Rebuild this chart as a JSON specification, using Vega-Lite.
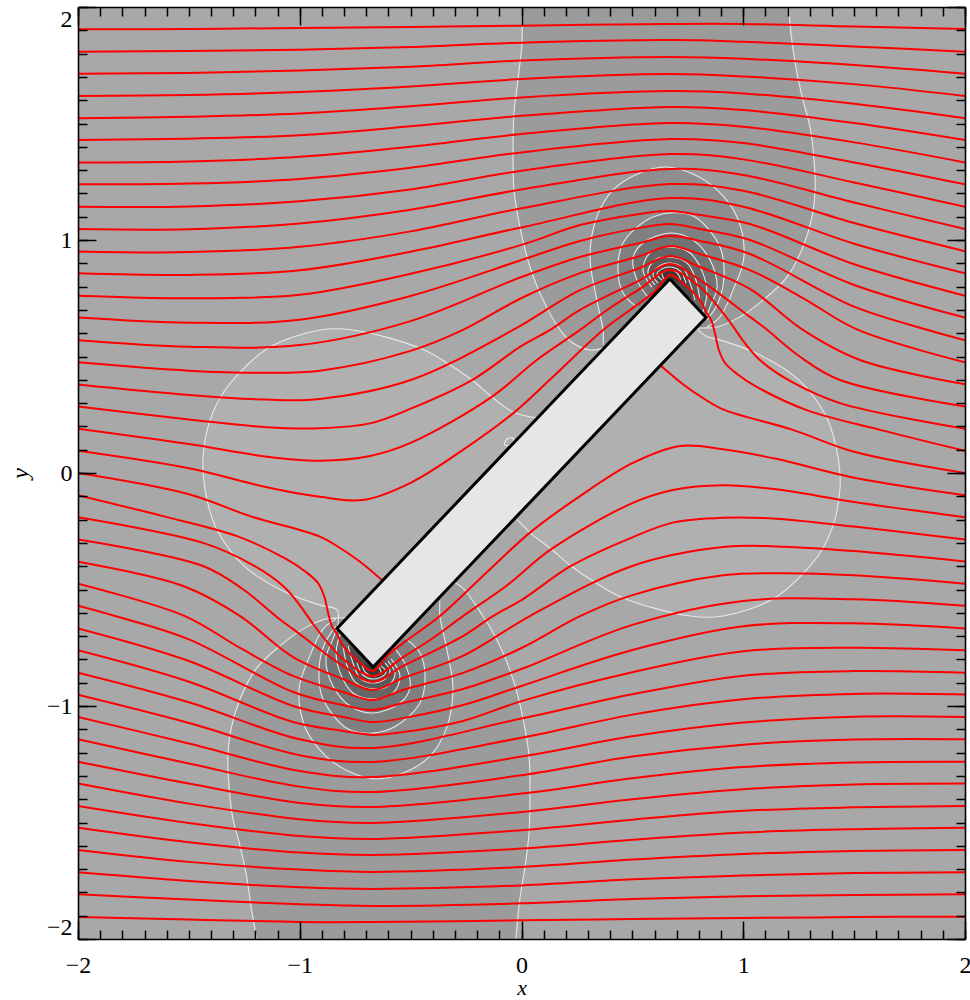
{"$schema":"https://vega.github.io/schema/vega-lite/v6.json","width":887,"height":932,"autosize":"none","padding":{"left":78,"top":7,"right":5,"bottom":61},"background":"white","view":{"fill":"#a8a8a8","stroke":null},
"datasets":{"contours":[
{"c":"A","level":1,"i":0,"x":0.002,"y":2},{"c":"A","level":1,"i":1,"x":0.002,"y":1.845},{"c":"A","level":1,"i":2,"x":-0.016,"y":1.687},{"c":"A","level":1,"i":3,"x":-0.034,"y":1.545},{"c":"A","level":1,"i":4,"x":-0.038,"y":1.386},{"c":"A","level":1,"i":5,"x":-0.034,"y":1.215},{"c":"A","level":1,"i":6,"x":-0.007,"y":1.056},{"c":"A","level":1,"i":7,"x":0.029,"y":0.914},{"c":"A","level":1,"i":8,"x":0.083,"y":0.773},{"c":"A","level":1,"i":9,"x":0.174,"y":0.614},{"c":"A","level":1,"i":10,"x":0.232,"y":0.558},{"c":"A","level":1,"i":11,"x":0.309,"y":0.528},{"c":"A","level":1,"i":12,"x":0.368,"y":0.536},{"c":"A","level":1,"i":13,"x":0.534,"y":0.614},{"c":"A","level":1,"i":14,"x":0.818,"y":0.622},{"c":"A","level":1,"i":15,"x":0.882,"y":0.627},{"c":"A","level":1,"i":16,"x":0.985,"y":0.67},{"c":"A","level":1,"i":17,"x":1.089,"y":0.742},{"c":"A","level":1,"i":18,"x":1.197,"y":0.841},{"c":"A","level":1,"i":19,"x":1.269,"y":0.97},{"c":"A","level":1,"i":20,"x":1.31,"y":1.099},{"c":"A","level":1,"i":21,"x":1.324,"y":1.215},{"c":"A","level":1,"i":22,"x":1.319,"y":1.343},{"c":"A","level":1,"i":23,"x":1.301,"y":1.485},{"c":"A","level":1,"i":24,"x":1.269,"y":1.601},{"c":"A","level":1,"i":25,"x":1.242,"y":1.717},{"c":"A","level":1,"i":26,"x":1.215,"y":1.888},{"c":"A","level":1,"i":27,"x":1.206,"y":2},
{"c":"Am","level":1,"i":0,"x":-0.025,"y":-2},{"c":"Am","level":1,"i":1,"x":-0.01,"y":-1.845},{"c":"Am","level":1,"i":2,"x":0.016,"y":-1.687},{"c":"Am","level":1,"i":3,"x":0.034,"y":-1.545},{"c":"Am","level":1,"i":4,"x":0.038,"y":-1.386},{"c":"Am","level":1,"i":5,"x":0.034,"y":-1.215},{"c":"Am","level":1,"i":6,"x":0.007,"y":-1.056},{"c":"Am","level":1,"i":7,"x":-0.029,"y":-0.914},{"c":"Am","level":1,"i":8,"x":-0.083,"y":-0.773},{"c":"Am","level":1,"i":9,"x":-0.174,"y":-0.614},{"c":"Am","level":1,"i":10,"x":-0.3,"y":-0.472},{"c":"Am","level":1,"i":11,"x":-0.4,"y":-0.5},{"c":"Am","level":1,"i":12,"x":-0.534,"y":-0.614},{"c":"Am","level":1,"i":13,"x":-0.818,"y":-0.622},{"c":"Am","level":1,"i":14,"x":-0.882,"y":-0.627},{"c":"Am","level":1,"i":15,"x":-0.985,"y":-0.67},{"c":"Am","level":1,"i":16,"x":-1.089,"y":-0.742},{"c":"Am","level":1,"i":17,"x":-1.197,"y":-0.841},{"c":"Am","level":1,"i":18,"x":-1.269,"y":-0.97},{"c":"Am","level":1,"i":19,"x":-1.31,"y":-1.099},{"c":"Am","level":1,"i":20,"x":-1.324,"y":-1.215},{"c":"Am","level":1,"i":21,"x":-1.319,"y":-1.343},{"c":"Am","level":1,"i":22,"x":-1.301,"y":-1.485},{"c":"Am","level":1,"i":23,"x":-1.269,"y":-1.601},{"c":"Am","level":1,"i":24,"x":-1.242,"y":-1.717},{"c":"Am","level":1,"i":25,"x":-1.215,"y":-1.888},{"c":"Am","level":1,"i":26,"x":-1.193,"y":-2},
{"c":"B","level":0,"i":0,"x":0.07,"y":0.236},{"c":"B","level":0,"i":1,"x":-0.038,"y":0.262},{"c":"B","level":0,"i":2,"x":-0.133,"y":0.326},{"c":"B","level":0,"i":3,"x":-0.223,"y":0.399},{"c":"B","level":0,"i":4,"x":-0.336,"y":0.472},{"c":"B","level":0,"i":5,"x":-0.458,"y":0.536},{"c":"B","level":0,"i":6,"x":-0.76,"y":0.614},{"c":"B","level":0,"i":7,"x":-0.909,"y":0.614},{"c":"B","level":0,"i":8,"x":-1.134,"y":0.541},{"c":"B","level":0,"i":9,"x":-1.269,"y":0.433},{"c":"B","level":0,"i":10,"x":-1.36,"y":0.322},{"c":"B","level":0,"i":11,"x":-1.414,"y":0.197},{"c":"B","level":0,"i":12,"x":-1.436,"y":0.069},{"c":"B","level":0,"i":13,"x":-1.436,"y":0},{"c":"B","level":0,"i":14,"x":-1.418,"y":-0.116},{"c":"B","level":0,"i":15,"x":-1.373,"y":-0.245},{"c":"B","level":0,"i":16,"x":-1.247,"y":-0.403},{"c":"B","level":0,"i":17,"x":-1.057,"y":-0.515},{"c":"B","level":0,"i":18,"x":-0.909,"y":-0.567},{"c":"B","level":0,"i":19,"x":-0.832,"y":-0.588},{"c":"B","level":0,"i":20,"x":-0.832,"y":-0.674},
{"c":"Bm","level":0,"i":0,"x":-0.02,"y":-0.2},{"c":"Bm","level":0,"i":1,"x":0.0,"y":-0.22},{"c":"Bm","level":0,"i":2,"x":0.045,"y":-0.262},{"c":"Bm","level":0,"i":3,"x":0.133,"y":-0.326},{"c":"Bm","level":0,"i":4,"x":0.223,"y":-0.399},{"c":"Bm","level":0,"i":5,"x":0.336,"y":-0.472},{"c":"Bm","level":0,"i":6,"x":0.458,"y":-0.536},{"c":"Bm","level":0,"i":7,"x":0.76,"y":-0.614},{"c":"Bm","level":0,"i":8,"x":0.909,"y":-0.614},{"c":"Bm","level":0,"i":9,"x":1.134,"y":-0.541},{"c":"Bm","level":0,"i":10,"x":1.269,"y":-0.433},{"c":"Bm","level":0,"i":11,"x":1.36,"y":-0.322},{"c":"Bm","level":0,"i":12,"x":1.414,"y":-0.197},{"c":"Bm","level":0,"i":13,"x":1.436,"y":-0.069},{"c":"Bm","level":0,"i":14,"x":1.436,"y":0},{"c":"Bm","level":0,"i":15,"x":1.418,"y":0.116},{"c":"Bm","level":0,"i":16,"x":1.373,"y":0.245},{"c":"Bm","level":0,"i":17,"x":1.247,"y":0.403},{"c":"Bm","level":0,"i":18,"x":1.057,"y":0.515},{"c":"Bm","level":0,"i":19,"x":0.909,"y":0.567},{"c":"Bm","level":0,"i":20,"x":0.832,"y":0.588},{"c":"Bm","level":0,"i":21,"x":0.79,"y":0.62},
{"c":"D","level":0,"i":0,"x":-0.079,"y":0.12},{"c":"D","level":0,"i":1,"x":-0.065,"y":0.146},{"c":"D","level":0,"i":2,"x":-0.038,"y":0.15},{"c":"D","level":0,"i":3,"x":-0.043,"y":0.12},{"c":"D","level":0,"i":4,"x":-0.079,"y":0.12},
{"c":"C1","level":2,"i":0,"x":0.368,"y":0.549},{"c":"C1","level":2,"i":1,"x":0.368,"y":0.614},{"c":"C1","level":2,"i":2,"x":0.34,"y":0.742},{"c":"C1","level":2,"i":3,"x":0.309,"y":0.927},{"c":"C1","level":2,"i":4,"x":0.34,"y":1.099},{"c":"C1","level":2,"i":5,"x":0.413,"y":1.215},{"c":"C1","level":2,"i":6,"x":0.534,"y":1.288},{"c":"C1","level":2,"i":7,"x":0.661,"y":1.313},{"c":"C1","level":2,"i":8,"x":0.782,"y":1.279},{"c":"C1","level":2,"i":9,"x":0.882,"y":1.215},{"c":"C1","level":2,"i":10,"x":0.972,"y":1.099},{"c":"C1","level":2,"i":11,"x":1.003,"y":0.927},{"c":"C1","level":2,"i":12,"x":0.954,"y":0.785},{"c":"C1","level":2,"i":13,"x":0.895,"y":0.67},{"c":"C1","level":2,"i":14,"x":0.836,"y":0.627},
{"c":"C1m","level":2,"i":0,"x":-0.368,"y":-0.549},{"c":"C1m","level":2,"i":1,"x":-0.368,"y":-0.614},{"c":"C1m","level":2,"i":2,"x":-0.34,"y":-0.742},{"c":"C1m","level":2,"i":3,"x":-0.309,"y":-0.927},{"c":"C1m","level":2,"i":4,"x":-0.34,"y":-1.099},{"c":"C1m","level":2,"i":5,"x":-0.413,"y":-1.215},{"c":"C1m","level":2,"i":6,"x":-0.534,"y":-1.288},{"c":"C1m","level":2,"i":7,"x":-0.661,"y":-1.313},{"c":"C1m","level":2,"i":8,"x":-0.782,"y":-1.279},{"c":"C1m","level":2,"i":9,"x":-0.882,"y":-1.215},{"c":"C1m","level":2,"i":10,"x":-0.972,"y":-1.099},{"c":"C1m","level":2,"i":11,"x":-1.003,"y":-0.927},{"c":"C1m","level":2,"i":12,"x":-0.954,"y":-0.785},{"c":"C1m","level":2,"i":13,"x":-0.895,"y":-0.67},{"c":"C1m","level":2,"i":14,"x":-0.836,"y":-0.627},
{"c":"C2","level":3,"i":0,"x":0.521,"y":0.712},{"c":"C2","level":3,"i":1,"x":0.458,"y":0.773},{"c":"C2","level":3,"i":2,"x":0.435,"y":0.871},{"c":"C2","level":3,"i":3,"x":0.458,"y":0.987},{"c":"C2","level":3,"i":4,"x":0.566,"y":1.086},{"c":"C2","level":3,"i":5,"x":0.67,"y":1.116},{"c":"C2","level":3,"i":6,"x":0.782,"y":1.099},{"c":"C2","level":3,"i":7,"x":0.895,"y":0.97},{"c":"C2","level":3,"i":8,"x":0.913,"y":0.841},{"c":"C2","level":3,"i":9,"x":0.886,"y":0.73},{"c":"C2","level":3,"i":10,"x":0.836,"y":0.657},
{"c":"C2m","level":3,"i":0,"x":-0.521,"y":-0.712},{"c":"C2m","level":3,"i":1,"x":-0.458,"y":-0.773},{"c":"C2m","level":3,"i":2,"x":-0.435,"y":-0.871},{"c":"C2m","level":3,"i":3,"x":-0.458,"y":-0.987},{"c":"C2m","level":3,"i":4,"x":-0.566,"y":-1.086},{"c":"C2m","level":3,"i":5,"x":-0.67,"y":-1.116},{"c":"C2m","level":3,"i":6,"x":-0.782,"y":-1.099},{"c":"C2m","level":3,"i":7,"x":-0.895,"y":-0.97},{"c":"C2m","level":3,"i":8,"x":-0.913,"y":-0.841},{"c":"C2m","level":3,"i":9,"x":-0.886,"y":-0.73},{"c":"C2m","level":3,"i":10,"x":-0.836,"y":-0.657},
{"c":"C3","level":4,"i":0,"x":0.57,"y":0.755},{"c":"C3","level":4,"i":1,"x":0.521,"y":0.828},{"c":"C3","level":4,"i":2,"x":0.503,"y":0.923},{"c":"C3","level":4,"i":3,"x":0.548,"y":0.987},{"c":"C3","level":4,"i":4,"x":0.67,"y":1.03},{"c":"C3","level":4,"i":5,"x":0.773,"y":1.0},{"c":"C3","level":4,"i":6,"x":0.85,"y":0.914},{"c":"C3","level":4,"i":7,"x":0.882,"y":0.798},{"c":"C3","level":4,"i":8,"x":0.85,"y":0.712},{"c":"C3","level":4,"i":9,"x":0.832,"y":0.665},
{"c":"C3m","level":4,"i":0,"x":-0.57,"y":-0.755},{"c":"C3m","level":4,"i":1,"x":-0.521,"y":-0.828},{"c":"C3m","level":4,"i":2,"x":-0.503,"y":-0.923},{"c":"C3m","level":4,"i":3,"x":-0.548,"y":-0.987},{"c":"C3m","level":4,"i":4,"x":-0.67,"y":-1.03},{"c":"C3m","level":4,"i":5,"x":-0.773,"y":-1.0},{"c":"C3m","level":4,"i":6,"x":-0.85,"y":-0.914},{"c":"C3m","level":4,"i":7,"x":-0.882,"y":-0.798},{"c":"C3m","level":4,"i":8,"x":-0.85,"y":-0.712},{"c":"C3m","level":4,"i":9,"x":-0.832,"y":-0.665},
{"c":"C4","level":5,"i":0,"x":0.588,"y":0.798},{"c":"C4","level":5,"i":1,"x":0.548,"y":0.871},{"c":"C4","level":5,"i":2,"x":0.579,"y":0.944},{"c":"C4","level":5,"i":3,"x":0.67,"y":0.97},{"c":"C4","level":5,"i":4,"x":0.76,"y":0.944},{"c":"C4","level":5,"i":5,"x":0.818,"y":0.858},{"c":"C4","level":5,"i":6,"x":0.836,"y":0.773},{"c":"C4","level":5,"i":7,"x":0.818,"y":0.691},
{"c":"C4m","level":5,"i":0,"x":-0.588,"y":-0.798},{"c":"C4m","level":5,"i":1,"x":-0.548,"y":-0.871},{"c":"C4m","level":5,"i":2,"x":-0.579,"y":-0.944},{"c":"C4m","level":5,"i":3,"x":-0.67,"y":-0.97},{"c":"C4m","level":5,"i":4,"x":-0.76,"y":-0.944},{"c":"C4m","level":5,"i":5,"x":-0.818,"y":-0.858},{"c":"C4m","level":5,"i":6,"x":-0.836,"y":-0.773},{"c":"C4m","level":5,"i":7,"x":-0.818,"y":-0.691},
{"c":"C5","level":6,"i":0,"x":0.602,"y":0.807},{"c":"C5","level":6,"i":1,"x":0.57,"y":0.863},{"c":"C5","level":6,"i":2,"x":0.602,"y":0.914},{"c":"C5","level":6,"i":3,"x":0.67,"y":0.927},{"c":"C5","level":6,"i":4,"x":0.746,"y":0.901},{"c":"C5","level":6,"i":5,"x":0.782,"y":0.841},{"c":"C5","level":6,"i":6,"x":0.805,"y":0.742},
{"c":"C5m","level":6,"i":0,"x":-0.602,"y":-0.807},{"c":"C5m","level":6,"i":1,"x":-0.57,"y":-0.863},{"c":"C5m","level":6,"i":2,"x":-0.602,"y":-0.914},{"c":"C5m","level":6,"i":3,"x":-0.67,"y":-0.927},{"c":"C5m","level":6,"i":4,"x":-0.746,"y":-0.901},{"c":"C5m","level":6,"i":5,"x":-0.782,"y":-0.841},{"c":"C5m","level":6,"i":6,"x":-0.805,"y":-0.742},
{"c":"C6","level":7,"i":0,"x":0.616,"y":0.815},{"c":"C6","level":7,"i":1,"x":0.593,"y":0.85},{"c":"C6","level":7,"i":2,"x":0.616,"y":0.884},{"c":"C6","level":7,"i":3,"x":0.67,"y":0.901},{"c":"C6","level":7,"i":4,"x":0.728,"y":0.88},{"c":"C6","level":7,"i":5,"x":0.76,"y":0.815},{"c":"C6","level":7,"i":6,"x":0.782,"y":0.742},
{"c":"C6m","level":7,"i":0,"x":-0.616,"y":-0.815},{"c":"C6m","level":7,"i":1,"x":-0.593,"y":-0.85},{"c":"C6m","level":7,"i":2,"x":-0.616,"y":-0.884},{"c":"C6m","level":7,"i":3,"x":-0.67,"y":-0.901},{"c":"C6m","level":7,"i":4,"x":-0.728,"y":-0.88},{"c":"C6m","level":7,"i":5,"x":-0.76,"y":-0.815},{"c":"C6m","level":7,"i":6,"x":-0.782,"y":-0.742},
{"c":"C7","level":8,"i":0,"x":0.634,"y":0.828},{"c":"C7","level":8,"i":1,"x":0.611,"y":0.854},{"c":"C7","level":8,"i":2,"x":0.634,"y":0.876},{"c":"C7","level":8,"i":3,"x":0.67,"y":0.884},{"c":"C7","level":8,"i":4,"x":0.715,"y":0.867},{"c":"C7","level":8,"i":5,"x":0.742,"y":0.815},
{"c":"C7m","level":8,"i":0,"x":-0.634,"y":-0.828},{"c":"C7m","level":8,"i":1,"x":-0.611,"y":-0.854},{"c":"C7m","level":8,"i":2,"x":-0.634,"y":-0.876},{"c":"C7m","level":8,"i":3,"x":-0.67,"y":-0.884},{"c":"C7m","level":8,"i":4,"x":-0.715,"y":-0.867},{"c":"C7m","level":8,"i":5,"x":-0.742,"y":-0.815},
{"c":"C8","level":9,"i":0,"x":0.643,"y":0.833},{"c":"C8","level":9,"i":1,"x":0.634,"y":0.858},{"c":"C8","level":9,"i":2,"x":0.67,"y":0.871},{"c":"C8","level":9,"i":3,"x":0.706,"y":0.854},{"c":"C8","level":9,"i":4,"x":0.719,"y":0.824},
{"c":"C8m","level":9,"i":0,"x":-0.643,"y":-0.833},{"c":"C8m","level":9,"i":1,"x":-0.634,"y":-0.858},{"c":"C8m","level":9,"i":2,"x":-0.67,"y":-0.871},{"c":"C8m","level":9,"i":3,"x":-0.706,"y":-0.854},{"c":"C8m","level":9,"i":4,"x":-0.719,"y":-0.824}
],
"lines":[
{"k":20,"i":0,"x":-2,"y":1.904},{"k":20,"i":1,"x":-1.5,"y":1.906},{"k":20,"i":2,"x":-1,"y":1.91},{"k":20,"i":3,"x":-0.5,"y":1.914},{"k":20,"i":4,"x":0,"y":1.92},{"k":20,"i":5,"x":0.67,"y":1.927},{"k":20,"i":6,"x":1,"y":1.927},{"k":20,"i":7,"x":1.5,"y":1.916},{"k":20,"i":8,"x":2,"y":1.906},
{"k":19,"i":0,"x":-2,"y":1.808},{"k":19,"i":1,"x":-1.5,"y":1.811},{"k":19,"i":2,"x":-1,"y":1.817},{"k":19,"i":3,"x":-0.5,"y":1.828},{"k":19,"i":4,"x":0,"y":1.847},{"k":19,"i":5,"x":0.67,"y":1.858},{"k":19,"i":6,"x":1,"y":1.851},{"k":19,"i":7,"x":1.5,"y":1.831},{"k":19,"i":8,"x":2,"y":1.808},
{"k":18,"i":0,"x":-2,"y":1.714},{"k":18,"i":1,"x":-1.5,"y":1.717},{"k":18,"i":2,"x":-1,"y":1.727},{"k":18,"i":3,"x":-0.5,"y":1.744},{"k":18,"i":4,"x":0,"y":1.77},{"k":18,"i":5,"x":0.67,"y":1.785},{"k":18,"i":6,"x":1,"y":1.778},{"k":18,"i":7,"x":1.5,"y":1.751},{"k":18,"i":8,"x":2,"y":1.714},
{"k":17,"i":0,"x":-2,"y":1.618},{"k":17,"i":1,"x":-1.5,"y":1.622},{"k":17,"i":2,"x":-1,"y":1.635},{"k":17,"i":3,"x":-0.5,"y":1.659},{"k":17,"i":4,"x":0,"y":1.691},{"k":17,"i":5,"x":0.67,"y":1.712},{"k":17,"i":6,"x":1,"y":1.702},{"k":17,"i":7,"x":1.5,"y":1.669},{"k":17,"i":8,"x":2,"y":1.618},
{"k":16,"i":0,"x":-2,"y":1.523},{"k":16,"i":1,"x":-1.5,"y":1.529},{"k":16,"i":2,"x":-1,"y":1.543},{"k":16,"i":3,"x":-0.5,"y":1.574},{"k":16,"i":4,"x":0,"y":1.612},{"k":16,"i":5,"x":0.67,"y":1.639},{"k":16,"i":6,"x":1,"y":1.629},{"k":16,"i":7,"x":1.5,"y":1.585},{"k":16,"i":8,"x":2,"y":1.523},
{"k":15,"i":0,"x":-2,"y":1.429},{"k":15,"i":1,"x":-1.5,"y":1.435},{"k":15,"i":2,"x":-1,"y":1.45},{"k":15,"i":3,"x":-0.5,"y":1.488},{"k":15,"i":4,"x":0,"y":1.533},{"k":15,"i":5,"x":0.67,"y":1.571},{"k":15,"i":6,"x":1,"y":1.558},{"k":15,"i":7,"x":1.5,"y":1.502},{"k":15,"i":8,"x":2,"y":1.429},
{"k":14,"i":0,"x":-2,"y":1.333},{"k":14,"i":1,"x":-1.5,"y":1.337},{"k":14,"i":2,"x":-1,"y":1.357},{"k":14,"i":3,"x":-0.5,"y":1.4},{"k":14,"i":4,"x":0,"y":1.455},{"k":14,"i":5,"x":0.67,"y":1.502},{"k":14,"i":6,"x":1,"y":1.486},{"k":14,"i":7,"x":1.5,"y":1.419},{"k":14,"i":8,"x":2,"y":1.333},
{"k":13,"i":0,"x":-2,"y":1.239},{"k":13,"i":1,"x":-1.5,"y":1.242},{"k":13,"i":2,"x":-1,"y":1.262},{"k":13,"i":3,"x":-0.5,"y":1.31},{"k":13,"i":4,"x":0,"y":1.376},{"k":13,"i":5,"x":0.67,"y":1.433},{"k":13,"i":6,"x":1,"y":1.416},{"k":13,"i":7,"x":1.5,"y":1.333},{"k":13,"i":8,"x":2,"y":1.239},
{"k":12,"i":0,"x":-2,"y":1.143},{"k":12,"i":1,"x":-1.5,"y":1.144},{"k":12,"i":2,"x":-1,"y":1.166},{"k":12,"i":3,"x":-0.5,"y":1.217},{"k":12,"i":4,"x":0,"y":1.297},{"k":12,"i":5,"x":0.67,"y":1.369},{"k":12,"i":6,"x":1,"y":1.346},{"k":12,"i":7,"x":1.5,"y":1.247},{"k":12,"i":8,"x":2,"y":1.143},
{"k":11,"i":0,"x":-2,"y":1.047},{"k":11,"i":1,"x":-1.5,"y":1.046},{"k":11,"i":2,"x":-1,"y":1.071},{"k":11,"i":3,"x":-0.5,"y":1.13},{"k":11,"i":4,"x":0,"y":1.217},{"k":11,"i":5,"x":0.67,"y":1.305},{"k":11,"i":6,"x":1,"y":1.279},{"k":11,"i":7,"x":1.5,"y":1.161},{"k":11,"i":8,"x":2,"y":1.047},
{"k":10,"i":0,"x":-2,"y":0.951},{"k":10,"i":1,"x":-1.5,"y":0.948},{"k":10,"i":2,"x":-1,"y":0.971},{"k":10,"i":3,"x":-0.5,"y":1.037},{"k":10,"i":4,"x":0,"y":1.136},{"k":10,"i":5,"x":0.67,"y":1.24},{"k":10,"i":6,"x":1,"y":1.211},{"k":10,"i":7,"x":1.5,"y":1.073},{"k":10,"i":8,"x":2,"y":0.952},
{"k":9,"i":0,"x":-2,"y":0.857},{"k":9,"i":1,"x":-1.5,"y":0.85},{"k":9,"i":2,"x":-1,"y":0.87},{"k":9,"i":3,"x":-0.5,"y":0.95},{"k":9,"i":4,"x":0,"y":1.054},{"k":9,"i":5,"x":0.67,"y":1.18},{"k":9,"i":6,"x":1,"y":1.143},{"k":9,"i":7,"x":1.5,"y":0.984},{"k":9,"i":8,"x":2,"y":0.857},
{"k":8,"i":0,"x":-2,"y":0.761},{"k":8,"i":1,"x":-1.5,"y":0.75},{"k":8,"i":2,"x":-1,"y":0.765},{"k":8,"i":3,"x":-0.5,"y":0.855},{"k":8,"i":4,"x":0,"y":0.979},{"k":8,"i":5,"x":0.264,"y":1.064},{"k":8,"i":6,"x":0.534,"y":1.112},{"k":8,"i":7,"x":0.67,"y":1.124},{"k":8,"i":8,"x":0.805,"y":1.107},{"k":8,"i":9,"x":1.03,"y":1.069},{"k":8,"i":10,"x":1.5,"y":0.896},{"k":8,"i":11,"x":2,"y":0.761},
{"k":7,"i":0,"x":-2,"y":0.667},{"k":7,"i":1,"x":-1.5,"y":0.645},{"k":7,"i":2,"x":-1,"y":0.658},{"k":7,"i":3,"x":-0.5,"y":0.76},{"k":7,"i":4,"x":0,"y":0.914},{"k":7,"i":5,"x":0.264,"y":0.996},{"k":7,"i":6,"x":0.534,"y":1.052},{"k":7,"i":7,"x":0.67,"y":1.069},{"k":7,"i":8,"x":0.805,"y":1.047},{"k":7,"i":9,"x":1.03,"y":1.0},{"k":7,"i":10,"x":1.5,"y":0.807},{"k":7,"i":11,"x":2,"y":0.667},
{"k":6,"i":0,"x":-2,"y":0.57},{"k":6,"i":1,"x":-1.5,"y":0.542},{"k":6,"i":2,"x":-1,"y":0.549},{"k":6,"i":3,"x":-0.5,"y":0.652},{"k":6,"i":4,"x":0,"y":0.841},{"k":6,"i":5,"x":0.264,"y":0.927},{"k":6,"i":6,"x":0.534,"y":0.987},{"k":6,"i":7,"x":0.67,"y":1.017},{"k":6,"i":8,"x":0.805,"y":0.996},{"k":6,"i":9,"x":1.03,"y":0.94},{"k":6,"i":10,"x":1.5,"y":0.714},{"k":6,"i":11,"x":1.833,"y":0.614},{"k":6,"i":12,"x":2,"y":0.57},
{"k":5,"i":0,"x":-2,"y":0.475},{"k":5,"i":1,"x":-1.5,"y":0.439},{"k":5,"i":2,"x":-1.179,"y":0.43},{"k":5,"i":3,"x":-0.909,"y":0.439},{"k":5,"i":4,"x":-0.5,"y":0.524},{"k":5,"i":5,"x":-0.264,"y":0.614},{"k":5,"i":6,"x":0,"y":0.751},{"k":5,"i":7,"x":0.264,"y":0.858},{"k":5,"i":8,"x":0.534,"y":0.931},{"k":5,"i":9,"x":0.67,"y":0.974},{"k":5,"i":10,"x":0.805,"y":0.94},{"k":5,"i":11,"x":1.03,"y":0.871},{"k":5,"i":12,"x":1.269,"y":0.751},{"k":5,"i":13,"x":1.518,"y":0.614},{"k":5,"i":14,"x":2,"y":0.475},
{"k":4,"i":0,"x":-2,"y":0.38},{"k":4,"i":1,"x":-1.5,"y":0.335},{"k":4,"i":2,"x":-1.148,"y":0.315},{"k":4,"i":3,"x":-0.909,"y":0.318},{"k":4,"i":4,"x":-0.5,"y":0.399},{"k":4,"i":5,"x":-0.038,"y":0.614},{"k":4,"i":6,"x":0.264,"y":0.785},{"k":4,"i":7,"x":0.534,"y":0.88},{"k":4,"i":8,"x":0.67,"y":0.931},{"k":4,"i":9,"x":0.805,"y":0.884},{"k":4,"i":10,"x":1.03,"y":0.79},{"k":4,"i":11,"x":1.269,"y":0.614},{"k":4,"i":12,"x":1.526,"y":0.485},{"k":4,"i":13,"x":2,"y":0.381},
{"k":3,"i":0,"x":-2,"y":0.285},{"k":3,"i":1,"x":-1.5,"y":0.23},{"k":3,"i":2,"x":-1.148,"y":0.196},{"k":3,"i":3,"x":-0.909,"y":0.192},{"k":3,"i":4,"x":-0.683,"y":0.213},{"k":3,"i":5,"x":-0.5,"y":0.276},{"k":3,"i":6,"x":-0.223,"y":0.399},{"k":3,"i":7,"x":-0.007,"y":0.541},{"k":3,"i":8,"x":0.129,"y":0.614},{"k":3,"i":9,"x":0.264,"y":0.7},{"k":3,"i":10,"x":0.534,"y":0.828},{"k":3,"i":11,"x":0.67,"y":0.897},{"k":3,"i":12,"x":0.805,"y":0.828},{"k":3,"i":13,"x":1.03,"y":0.67},{"k":3,"i":14,"x":1.098,"y":0.622},{"k":3,"i":15,"x":1.256,"y":0.499},{"k":3,"i":16,"x":1.436,"y":0.399},{"k":3,"i":17,"x":2,"y":0.285},
{"k":2,"i":0,"x":-2,"y":0.19},{"k":2,"i":1,"x":-1.5,"y":0.124},{"k":2,"i":2,"x":-1.148,"y":0.07},{"k":2,"i":3,"x":-0.909,"y":0.053},{"k":2,"i":4,"x":-0.683,"y":0.073},{"k":2,"i":5,"x":-0.5,"y":0.129},{"k":2,"i":6,"x":-0.134,"y":0.327},{"k":2,"i":7,"x":0.069,"y":0.485},{"k":2,"i":8,"x":0.264,"y":0.614},{"k":2,"i":9,"x":0.399,"y":0.708},{"k":2,"i":10,"x":0.534,"y":0.79},{"k":2,"i":11,"x":0.67,"y":0.871},{"k":2,"i":12,"x":0.805,"y":0.798},{"k":2,"i":13,"x":0.872,"y":0.73},{"k":2,"i":14,"x":0.94,"y":0.648},{"k":2,"i":15,"x":1.007,"y":0.558},{"k":2,"i":16,"x":1.075,"y":0.485},{"k":2,"i":17,"x":1.211,"y":0.395},{"k":2,"i":18,"x":1.436,"y":0.3},{"k":2,"i":19,"x":2,"y":0.19},
{"k":1,"i":0,"x":-2,"y":0.095},{"k":1,"i":1,"x":-1.5,"y":0.02},{"k":1,"i":2,"x":-1.148,"y":-0.061},{"k":1,"i":3,"x":-0.909,"y":-0.102},{"k":1,"i":4,"x":-0.715,"y":-0.116},{"k":1,"i":5,"x":-0.5,"y":-0.042},{"k":1,"i":6,"x":-0.264,"y":0.099},{"k":1,"i":7,"x":-0.038,"y":0.256},{"k":1,"i":8,"x":0.142,"y":0.413},{"k":1,"i":9,"x":0.368,"y":0.614},{"k":1,"i":10,"x":0.534,"y":0.73},{"k":1,"i":11,"x":0.602,"y":0.781},{"k":1,"i":12,"x":0.67,"y":0.85},{"k":1,"i":13,"x":0.737,"y":0.807},{"k":1,"i":14,"x":0.805,"y":0.742},{"k":1,"i":15,"x":0.832,"y":0.691},{"k":1,"i":16,"x":0.855,"y":0.657},{"k":1,"i":17,"x":0.872,"y":0.601},{"k":1,"i":18,"x":0.89,"y":0.528},{"k":1,"i":19,"x":0.918,"y":0.472},{"k":1,"i":20,"x":0.972,"y":0.425},{"k":1,"i":21,"x":1.062,"y":0.369},{"k":1,"i":22,"x":1.286,"y":0.27},{"k":1,"i":23,"x":1.617,"y":0.185},{"k":1,"i":24,"x":2,"y":0.095},
{"k":0,"i":0,"x":-2,"y":0},{"k":0,"i":1,"x":-1.5,"y":-0.091},{"k":0,"i":2,"x":-1.224,"y":-0.185},{"k":0,"i":3,"x":-0.909,"y":-0.273},{"k":0,"i":4,"x":-0.818,"y":-0.322},{"k":0,"i":5,"x":-0.728,"y":-0.381},{"k":0,"i":6,"x":-0.63,"y":-0.459},
{"k":100,"i":0,"x":0.63,"y":0.459},{"k":100,"i":1,"x":0.728,"y":0.381},{"k":100,"i":2,"x":0.818,"y":0.322},{"k":100,"i":3,"x":0.909,"y":0.273},{"k":100,"i":4,"x":1.224,"y":0.185},{"k":100,"i":5,"x":1.5,"y":0.091},{"k":100,"i":6,"x":2,"y":0},
{"k":-1,"i":0,"x":-2,"y":-0.095},{"k":-1,"i":1,"x":-1.617,"y":-0.185},{"k":-1,"i":2,"x":-1.286,"y":-0.27},{"k":-1,"i":3,"x":-1.062,"y":-0.369},{"k":-1,"i":4,"x":-0.972,"y":-0.425},{"k":-1,"i":5,"x":-0.918,"y":-0.472},{"k":-1,"i":6,"x":-0.89,"y":-0.528},{"k":-1,"i":7,"x":-0.872,"y":-0.601},{"k":-1,"i":8,"x":-0.855,"y":-0.657},{"k":-1,"i":9,"x":-0.832,"y":-0.691},{"k":-1,"i":10,"x":-0.805,"y":-0.742},{"k":-1,"i":11,"x":-0.737,"y":-0.807},{"k":-1,"i":12,"x":-0.67,"y":-0.85},{"k":-1,"i":13,"x":-0.602,"y":-0.781},{"k":-1,"i":14,"x":-0.534,"y":-0.73},{"k":-1,"i":15,"x":-0.368,"y":-0.614},{"k":-1,"i":16,"x":-0.142,"y":-0.413},{"k":-1,"i":17,"x":0.038,"y":-0.256},{"k":-1,"i":18,"x":0.264,"y":-0.099},{"k":-1,"i":19,"x":0.5,"y":0.042},{"k":-1,"i":20,"x":0.715,"y":0.116},{"k":-1,"i":21,"x":0.909,"y":0.102},{"k":-1,"i":22,"x":1.148,"y":0.061},{"k":-1,"i":23,"x":1.5,"y":-0.02},{"k":-1,"i":24,"x":2,"y":-0.095},
{"k":-2,"i":0,"x":-2,"y":-0.19},{"k":-2,"i":1,"x":-1.436,"y":-0.3},{"k":-2,"i":2,"x":-1.211,"y":-0.395},{"k":-2,"i":3,"x":-1.075,"y":-0.485},{"k":-2,"i":4,"x":-1.007,"y":-0.558},{"k":-2,"i":5,"x":-0.94,"y":-0.648},{"k":-2,"i":6,"x":-0.872,"y":-0.73},{"k":-2,"i":7,"x":-0.805,"y":-0.798},{"k":-2,"i":8,"x":-0.67,"y":-0.871},{"k":-2,"i":9,"x":-0.534,"y":-0.79},{"k":-2,"i":10,"x":-0.399,"y":-0.708},{"k":-2,"i":11,"x":-0.264,"y":-0.614},{"k":-2,"i":12,"x":-0.069,"y":-0.485},{"k":-2,"i":13,"x":0.134,"y":-0.327},{"k":-2,"i":14,"x":0.5,"y":-0.129},{"k":-2,"i":15,"x":0.683,"y":-0.073},{"k":-2,"i":16,"x":0.909,"y":-0.053},{"k":-2,"i":17,"x":1.148,"y":-0.07},{"k":-2,"i":18,"x":1.5,"y":-0.124},{"k":-2,"i":19,"x":2,"y":-0.19},
{"k":-3,"i":0,"x":-2,"y":-0.285},{"k":-3,"i":1,"x":-1.436,"y":-0.399},{"k":-3,"i":2,"x":-1.256,"y":-0.499},{"k":-3,"i":3,"x":-1.098,"y":-0.622},{"k":-3,"i":4,"x":-1.03,"y":-0.67},{"k":-3,"i":5,"x":-0.805,"y":-0.828},{"k":-3,"i":6,"x":-0.67,"y":-0.897},{"k":-3,"i":7,"x":-0.534,"y":-0.828},{"k":-3,"i":8,"x":-0.264,"y":-0.7},{"k":-3,"i":9,"x":-0.129,"y":-0.614},{"k":-3,"i":10,"x":0.007,"y":-0.541},{"k":-3,"i":11,"x":0.223,"y":-0.399},{"k":-3,"i":12,"x":0.5,"y":-0.276},{"k":-3,"i":13,"x":0.683,"y":-0.213},{"k":-3,"i":14,"x":0.909,"y":-0.192},{"k":-3,"i":15,"x":1.148,"y":-0.196},{"k":-3,"i":16,"x":1.5,"y":-0.23},{"k":-3,"i":17,"x":2,"y":-0.285},
{"k":-4,"i":0,"x":-2,"y":-0.381},{"k":-4,"i":1,"x":-1.526,"y":-0.485},{"k":-4,"i":2,"x":-1.269,"y":-0.614},{"k":-4,"i":3,"x":-1.03,"y":-0.79},{"k":-4,"i":4,"x":-0.805,"y":-0.884},{"k":-4,"i":5,"x":-0.67,"y":-0.931},{"k":-4,"i":6,"x":-0.534,"y":-0.88},{"k":-4,"i":7,"x":-0.264,"y":-0.785},{"k":-4,"i":8,"x":0.038,"y":-0.614},{"k":-4,"i":9,"x":0.5,"y":-0.399},{"k":-4,"i":10,"x":0.909,"y":-0.318},{"k":-4,"i":11,"x":1.148,"y":-0.315},{"k":-4,"i":12,"x":1.5,"y":-0.335},{"k":-4,"i":13,"x":2,"y":-0.38},
{"k":-5,"i":0,"x":-2,"y":-0.475},{"k":-5,"i":1,"x":-1.518,"y":-0.614},{"k":-5,"i":2,"x":-1.269,"y":-0.751},{"k":-5,"i":3,"x":-1.03,"y":-0.871},{"k":-5,"i":4,"x":-0.805,"y":-0.94},{"k":-5,"i":5,"x":-0.67,"y":-0.974},{"k":-5,"i":6,"x":-0.534,"y":-0.931},{"k":-5,"i":7,"x":-0.264,"y":-0.858},{"k":-5,"i":8,"x":0,"y":-0.751},{"k":-5,"i":9,"x":0.264,"y":-0.614},{"k":-5,"i":10,"x":0.5,"y":-0.524},{"k":-5,"i":11,"x":0.909,"y":-0.439},{"k":-5,"i":12,"x":1.179,"y":-0.43},{"k":-5,"i":13,"x":1.5,"y":-0.439},{"k":-5,"i":14,"x":2,"y":-0.475},
{"k":-6,"i":0,"x":-2,"y":-0.57},{"k":-6,"i":1,"x":-1.833,"y":-0.614},{"k":-6,"i":2,"x":-1.5,"y":-0.714},{"k":-6,"i":3,"x":-1.03,"y":-0.94},{"k":-6,"i":4,"x":-0.805,"y":-0.996},{"k":-6,"i":5,"x":-0.67,"y":-1.017},{"k":-6,"i":6,"x":-0.534,"y":-0.987},{"k":-6,"i":7,"x":-0.264,"y":-0.927},{"k":-6,"i":8,"x":0,"y":-0.841},{"k":-6,"i":9,"x":0.5,"y":-0.652},{"k":-6,"i":10,"x":1,"y":-0.549},{"k":-6,"i":11,"x":1.5,"y":-0.542},{"k":-6,"i":12,"x":2,"y":-0.57},
{"k":-7,"i":0,"x":-2,"y":-0.667},{"k":-7,"i":1,"x":-1.5,"y":-0.807},{"k":-7,"i":2,"x":-1.03,"y":-1.0},{"k":-7,"i":3,"x":-0.805,"y":-1.047},{"k":-7,"i":4,"x":-0.67,"y":-1.069},{"k":-7,"i":5,"x":-0.534,"y":-1.052},{"k":-7,"i":6,"x":-0.264,"y":-0.996},{"k":-7,"i":7,"x":0,"y":-0.914},{"k":-7,"i":8,"x":0.5,"y":-0.76},{"k":-7,"i":9,"x":1,"y":-0.658},{"k":-7,"i":10,"x":1.5,"y":-0.645},{"k":-7,"i":11,"x":2,"y":-0.667},
{"k":-8,"i":0,"x":-2,"y":-0.761},{"k":-8,"i":1,"x":-1.5,"y":-0.896},{"k":-8,"i":2,"x":-1.03,"y":-1.069},{"k":-8,"i":3,"x":-0.805,"y":-1.107},{"k":-8,"i":4,"x":-0.67,"y":-1.124},{"k":-8,"i":5,"x":-0.534,"y":-1.112},{"k":-8,"i":6,"x":-0.264,"y":-1.064},{"k":-8,"i":7,"x":0,"y":-0.979},{"k":-8,"i":8,"x":0.5,"y":-0.855},{"k":-8,"i":9,"x":1,"y":-0.765},{"k":-8,"i":10,"x":1.5,"y":-0.75},{"k":-8,"i":11,"x":2,"y":-0.761},
{"k":-9,"i":0,"x":-2,"y":-0.857},{"k":-9,"i":1,"x":-1.5,"y":-0.984},{"k":-9,"i":2,"x":-1,"y":-1.143},{"k":-9,"i":3,"x":-0.67,"y":-1.18},{"k":-9,"i":4,"x":0,"y":-1.054},{"k":-9,"i":5,"x":0.5,"y":-0.95},{"k":-9,"i":6,"x":1,"y":-0.87},{"k":-9,"i":7,"x":1.5,"y":-0.85},{"k":-9,"i":8,"x":2,"y":-0.857},
{"k":-10,"i":0,"x":-2,"y":-0.952},{"k":-10,"i":1,"x":-1.5,"y":-1.073},{"k":-10,"i":2,"x":-1,"y":-1.211},{"k":-10,"i":3,"x":-0.67,"y":-1.24},{"k":-10,"i":4,"x":0,"y":-1.136},{"k":-10,"i":5,"x":0.5,"y":-1.037},{"k":-10,"i":6,"x":1,"y":-0.971},{"k":-10,"i":7,"x":1.5,"y":-0.948},{"k":-10,"i":8,"x":2,"y":-0.951},
{"k":-11,"i":0,"x":-2,"y":-1.047},{"k":-11,"i":1,"x":-1.5,"y":-1.161},{"k":-11,"i":2,"x":-1,"y":-1.279},{"k":-11,"i":3,"x":-0.67,"y":-1.305},{"k":-11,"i":4,"x":0,"y":-1.217},{"k":-11,"i":5,"x":0.5,"y":-1.13},{"k":-11,"i":6,"x":1,"y":-1.071},{"k":-11,"i":7,"x":1.5,"y":-1.046},{"k":-11,"i":8,"x":2,"y":-1.047},
{"k":-12,"i":0,"x":-2,"y":-1.143},{"k":-12,"i":1,"x":-1.5,"y":-1.247},{"k":-12,"i":2,"x":-1,"y":-1.346},{"k":-12,"i":3,"x":-0.67,"y":-1.369},{"k":-12,"i":4,"x":0,"y":-1.297},{"k":-12,"i":5,"x":0.5,"y":-1.217},{"k":-12,"i":6,"x":1,"y":-1.166},{"k":-12,"i":7,"x":1.5,"y":-1.144},{"k":-12,"i":8,"x":2,"y":-1.143},
{"k":-13,"i":0,"x":-2,"y":-1.239},{"k":-13,"i":1,"x":-1.5,"y":-1.333},{"k":-13,"i":2,"x":-1,"y":-1.416},{"k":-13,"i":3,"x":-0.67,"y":-1.433},{"k":-13,"i":4,"x":0,"y":-1.376},{"k":-13,"i":5,"x":0.5,"y":-1.31},{"k":-13,"i":6,"x":1,"y":-1.262},{"k":-13,"i":7,"x":1.5,"y":-1.242},{"k":-13,"i":8,"x":2,"y":-1.239},
{"k":-14,"i":0,"x":-2,"y":-1.333},{"k":-14,"i":1,"x":-1.5,"y":-1.419},{"k":-14,"i":2,"x":-1,"y":-1.486},{"k":-14,"i":3,"x":-0.67,"y":-1.502},{"k":-14,"i":4,"x":0,"y":-1.455},{"k":-14,"i":5,"x":0.5,"y":-1.4},{"k":-14,"i":6,"x":1,"y":-1.357},{"k":-14,"i":7,"x":1.5,"y":-1.337},{"k":-14,"i":8,"x":2,"y":-1.333},
{"k":-15,"i":0,"x":-2,"y":-1.429},{"k":-15,"i":1,"x":-1.5,"y":-1.502},{"k":-15,"i":2,"x":-1,"y":-1.558},{"k":-15,"i":3,"x":-0.67,"y":-1.571},{"k":-15,"i":4,"x":0,"y":-1.533},{"k":-15,"i":5,"x":0.5,"y":-1.488},{"k":-15,"i":6,"x":1,"y":-1.45},{"k":-15,"i":7,"x":1.5,"y":-1.435},{"k":-15,"i":8,"x":2,"y":-1.429},
{"k":-16,"i":0,"x":-2,"y":-1.523},{"k":-16,"i":1,"x":-1.5,"y":-1.585},{"k":-16,"i":2,"x":-1,"y":-1.629},{"k":-16,"i":3,"x":-0.67,"y":-1.639},{"k":-16,"i":4,"x":0,"y":-1.612},{"k":-16,"i":5,"x":0.5,"y":-1.574},{"k":-16,"i":6,"x":1,"y":-1.543},{"k":-16,"i":7,"x":1.5,"y":-1.529},{"k":-16,"i":8,"x":2,"y":-1.523},
{"k":-17,"i":0,"x":-2,"y":-1.618},{"k":-17,"i":1,"x":-1.5,"y":-1.669},{"k":-17,"i":2,"x":-1,"y":-1.702},{"k":-17,"i":3,"x":-0.67,"y":-1.712},{"k":-17,"i":4,"x":0,"y":-1.691},{"k":-17,"i":5,"x":0.5,"y":-1.659},{"k":-17,"i":6,"x":1,"y":-1.635},{"k":-17,"i":7,"x":1.5,"y":-1.622},{"k":-17,"i":8,"x":2,"y":-1.618},
{"k":-18,"i":0,"x":-2,"y":-1.714},{"k":-18,"i":1,"x":-1.5,"y":-1.751},{"k":-18,"i":2,"x":-1,"y":-1.778},{"k":-18,"i":3,"x":-0.67,"y":-1.785},{"k":-18,"i":4,"x":0,"y":-1.77},{"k":-18,"i":5,"x":0.5,"y":-1.744},{"k":-18,"i":6,"x":1,"y":-1.727},{"k":-18,"i":7,"x":1.5,"y":-1.717},{"k":-18,"i":8,"x":2,"y":-1.714},
{"k":-19,"i":0,"x":-2,"y":-1.808},{"k":-19,"i":1,"x":-1.5,"y":-1.831},{"k":-19,"i":2,"x":-1,"y":-1.851},{"k":-19,"i":3,"x":-0.67,"y":-1.858},{"k":-19,"i":4,"x":0,"y":-1.847},{"k":-19,"i":5,"x":0.5,"y":-1.828},{"k":-19,"i":6,"x":1,"y":-1.817},{"k":-19,"i":7,"x":1.5,"y":-1.811},{"k":-19,"i":8,"x":2,"y":-1.808},
{"k":-20,"i":0,"x":-2,"y":-1.906},{"k":-20,"i":1,"x":-1.5,"y":-1.916},{"k":-20,"i":2,"x":-1,"y":-1.927},{"k":-20,"i":3,"x":-0.67,"y":-1.927},{"k":-20,"i":4,"x":0,"y":-1.92},{"k":-20,"i":5,"x":0.5,"y":-1.914},{"k":-20,"i":6,"x":1,"y":-1.91},{"k":-20,"i":7,"x":1.5,"y":-1.906},{"k":-20,"i":8,"x":2,"y":-1.904}
],
"plate":[{"i":0,"x":0.669,"y":0.833},{"i":1,"x":0.832,"y":0.667},{"i":2,"x":-0.669,"y":-0.833},{"i":3,"x":-0.832,"y":-0.667},{"i":4,"x":0.669,"y":0.833}],
"frame":[{"x":0,"y":0}]},
"encoding":{"x":{"field":"x","type":"quantitative","scale":{"domain":[-2,2],"nice":false,"zero":false},"axis":null},"y":{"field":"y","type":"quantitative","scale":{"domain":[-2,2],"nice":false,"zero":false},"axis":null}},
"resolve":{"axis":{"x":"independent","y":"independent"}},
"layer":[
{"data":{"name":"contours"},"mark":{"type":"line","interpolate":"catmull-rom","stroke":null,"clip":true},"encoding":{"order":{"field":"i","type":"quantitative"},"detail":{"field":"c"},"fill":{"field":"level","type":"ordinal","legend":null,"scale":{"domain":[0,1,2,3,4,5,6,7,8,9],"range":["#b0b0b0","#9b9b9b","#8e8e8e","#808080","#727272","#666666","#5a5a5a","#4c4c4c","#404040","#383838"]}}}},
{"data":{"name":"contours"},"mark":{"type":"line","interpolate":"catmull-rom","stroke":"#e8e8e8","strokeWidth":1.1,"clip":true},"encoding":{"order":{"field":"i","type":"quantitative"},"detail":{"field":"c"}}},
{"data":{"name":"lines"},"mark":{"type":"line","interpolate":"catmull-rom","stroke":"#ff0000","strokeWidth":2,"clip":true},"encoding":{"order":{"field":"i","type":"quantitative"},"detail":{"field":"k"}}},
{"data":{"name":"plate"},"mark":{"type":"line","fill":"#e6e6e6","stroke":"#000000","strokeWidth":3,"strokeJoin":"miter"},"encoding":{"order":{"field":"i","type":"quantitative"}}},
{"data":{"name":"frame"},"mark":{"type":"point","opacity":0},"encoding":{
"x":{"field":"x","type":"quantitative","scale":{"domain":[-2,2],"nice":false,"zero":false},"axis":{"orient":"bottom","values":[-2,-1,0,1,2],"format":"d","grid":false,"tickSize":-18,"tickWidth":1.5,"tickColor":"#000","domainColor":"#000","domainWidth":1.6,"labelFont":"Liberation Serif","labelFontSize":24,"labelColor":"#000","labelPadding":32,"labelFlush":false,"labelOverlap":false,"title":"x","titleFont":"Liberation Serif","titleFontStyle":"italic","titleFontWeight":"normal","titleFontSize":22,"titleColor":"#000","titlePadding":0,"zindex":1}},
"y":{"field":"y","type":"quantitative","scale":{"domain":[-2,2],"nice":false,"zero":false},"axis":{"orient":"left","values":[-2,-1,0,1,2],"format":"d","grid":false,"tickSize":-18,"tickWidth":1.5,"tickColor":"#000","domainColor":"#000","domainWidth":1.6,"labelFont":"Liberation Serif","labelFontSize":24,"labelColor":"#000","labelPadding":24,"labelFlush":true,"labelFlushOffset":0,"labelOverlap":false,"title":"y","titleFont":"Liberation Serif","titleFontStyle":"italic","titleFontWeight":"normal","titleFontSize":24,"titleColor":"#000","titlePadding":14,"zindex":1}}}},
{"data":{"name":"frame"},"mark":{"type":"point","opacity":0},"encoding":{
"x":{"field":"x","type":"quantitative","scale":{"domain":[-2,2],"nice":false,"zero":false},"axis":{"orient":"top","values":[-2,-1,0,1,2],"labels":false,"grid":false,"tickSize":-18,"tickWidth":1.5,"tickColor":"#000","domainColor":"#000","domainWidth":1.6,"title":null,"zindex":1}},
"y":{"field":"y","type":"quantitative","scale":{"domain":[-2,2],"nice":false,"zero":false},"axis":{"orient":"right","values":[-2,-1,0,1,2],"labels":false,"grid":false,"tickSize":-18,"tickWidth":1.5,"tickColor":"#000","domainColor":"#000","domainWidth":1.6,"title":null,"zindex":1}}}},
{"data":{"name":"frame"},"mark":{"type":"point","opacity":0},"encoding":{
"x":{"field":"x","type":"quantitative","scale":{"domain":[-2,2],"nice":false,"zero":false},"axis":{"orient":"bottom","tickCount":40,"labels":false,"domain":false,"grid":false,"tickSize":-9,"tickWidth":1.5,"tickColor":"#000","title":null,"zindex":1}},
"y":{"field":"y","type":"quantitative","scale":{"domain":[-2,2],"nice":false,"zero":false},"axis":{"orient":"left","tickCount":40,"labels":false,"domain":false,"grid":false,"tickSize":-9,"tickWidth":1.5,"tickColor":"#000","title":null,"zindex":1}}}},
{"data":{"name":"frame"},"mark":{"type":"point","opacity":0},"encoding":{
"x":{"field":"x","type":"quantitative","scale":{"domain":[-2,2],"nice":false,"zero":false},"axis":{"orient":"top","tickCount":40,"labels":false,"domain":false,"grid":false,"tickSize":-9,"tickWidth":1.5,"tickColor":"#000","title":null,"zindex":1}},
"y":{"field":"y","type":"quantitative","scale":{"domain":[-2,2],"nice":false,"zero":false},"axis":{"orient":"right","tickCount":40,"labels":false,"domain":false,"grid":false,"tickSize":-9,"tickWidth":1.5,"tickColor":"#000","title":null,"zindex":1}}}}
]}
